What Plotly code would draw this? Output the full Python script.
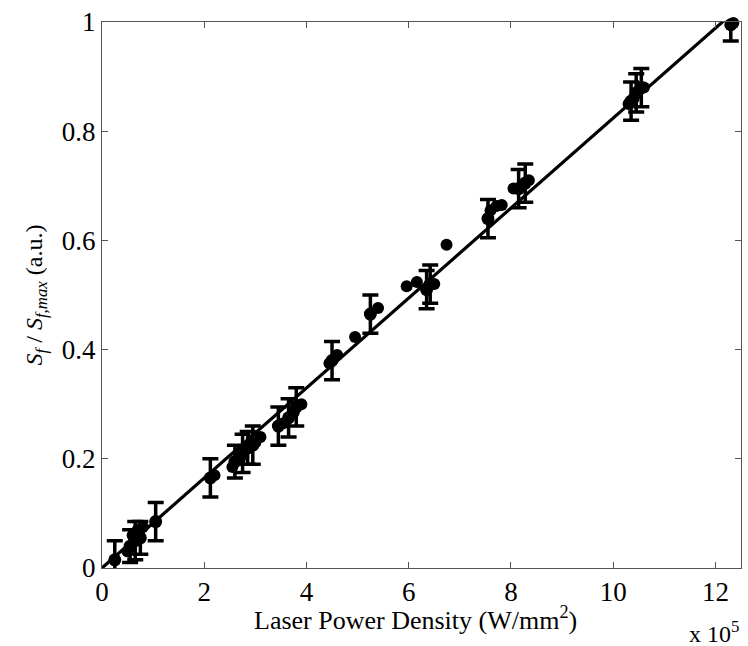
import plotly.graph_objects as go

# Points with error bars (x in units of 1e5 W/mm^2)
err_x = [0.25, 0.55, 0.65, 0.75, 1.05, 2.12, 2.6, 2.75, 2.85, 2.95, 3.45, 3.65, 3.8,
         4.5, 5.25, 6.35, 6.42, 7.55, 8.15, 8.28, 10.35, 10.45, 10.55, 12.3]
err_y = [0.015, 0.04, 0.05, 0.055, 0.085, 0.165, 0.195, 0.21, 0.22, 0.225, 0.26, 0.275, 0.295,
         0.38, 0.465, 0.51, 0.52, 0.64, 0.695, 0.705, 0.855, 0.87, 0.88, 0.995]
err_v = [0.035, 0.03, 0.035, 0.03, 0.035, 0.035, 0.03, 0.035, 0.03, 0.035, 0.035, 0.035, 0.035,
         0.035, 0.035, 0.035, 0.035, 0.035, 0.035, 0.035, 0.035, 0.035, 0.035, 0.03]

# Points without error bars
dot_x = [0.5, 0.6, 0.7, 0.8, 2.2, 2.55, 2.7, 3.0, 3.1, 3.55, 3.75, 3.9, 4.45, 4.6, 4.95,
         5.4, 5.96, 6.16, 6.5, 6.74, 7.6, 7.72, 7.82, 8.05, 8.35, 10.3, 10.4, 10.5, 10.6, 12.35]
dot_y = [0.03, 0.06, 0.07, 0.075, 0.17, 0.185, 0.2, 0.23, 0.24, 0.265, 0.285, 0.3, 0.375, 0.39, 0.423,
         0.476, 0.516, 0.524, 0.52, 0.592, 0.655, 0.663, 0.665, 0.695, 0.71, 0.85, 0.86, 0.875, 0.88, 0.998]

# Linear fit through origin
fit_slope = 0.0824
fit_x = [0, 12.5]
fit_y = [fit_slope * v for v in fit_x]

x_ticks = [0, 2, 4, 6, 8, 10, 12]
y_ticks = [0, 0.2, 0.4, 0.6, 0.8, 1]
y_tick_labels = ["0", "0.2", "0.4", "0.6", "0.8", "1"]

FONT = "Liberation Serif"

fig = go.Figure()
fig.add_trace(go.Scatter(
    x=err_x, y=err_y, mode="markers",
    marker=dict(color="black", size=13),
    error_y=dict(type="data", array=err_v, color="black", thickness=3.5, width=8),
    showlegend=False, cliponaxis=False,
))
fig.add_trace(go.Scatter(
    x=dot_x, y=dot_y, mode="markers",
    marker=dict(color="black", size=12),
    showlegend=False, cliponaxis=False,
))
fig.add_trace(go.Scatter(
    x=fit_x, y=fit_y, mode="lines",
    line=dict(color="black", width=3.2),
    showlegend=False,
))

axis_common = dict(
    showgrid=False, zeroline=False, showline=True, linecolor="#555555", linewidth=1,
    mirror="ticks", ticks="inside", ticklen=6, tickcolor="#555555",
    tickfont=dict(family=FONT, size=27, color="black"),
)

fig.update_layout(
    width=748, height=646,
    margin=dict(l=102, r=7, t=22, b=78),
    paper_bgcolor="white", plot_bgcolor="white",
    font=dict(family=FONT, color="black"),
    xaxis=dict(range=[0, 12.5], tickvals=x_ticks, **axis_common),
    yaxis=dict(range=[0, 1], tickvals=y_ticks, ticktext=y_tick_labels,
               title=dict(text="<i>S<sub>f</sub></i> / <i>S<sub>f,max</sub></i> (a.u.)",
                          font=dict(family=FONT, size=24), standoff=12),
               **axis_common),
)

fig.add_annotation(
    xref="paper", yref="paper", x=0.49, y=-0.093, xanchor="center", yanchor="middle",
    text="Laser Power Density (W/mm<sup>2</sup>)", showarrow=False,
    font=dict(family=FONT, size=26, color="black"),
)
fig.add_annotation(
    xref="paper", yref="paper", x=1.0, y=-0.117, xanchor="right", yanchor="middle",
    text="x 10<sup>5</sup>", showarrow=False,
    font=dict(family=FONT, size=24, color="black"),
)

fig.write_html("out.html")
